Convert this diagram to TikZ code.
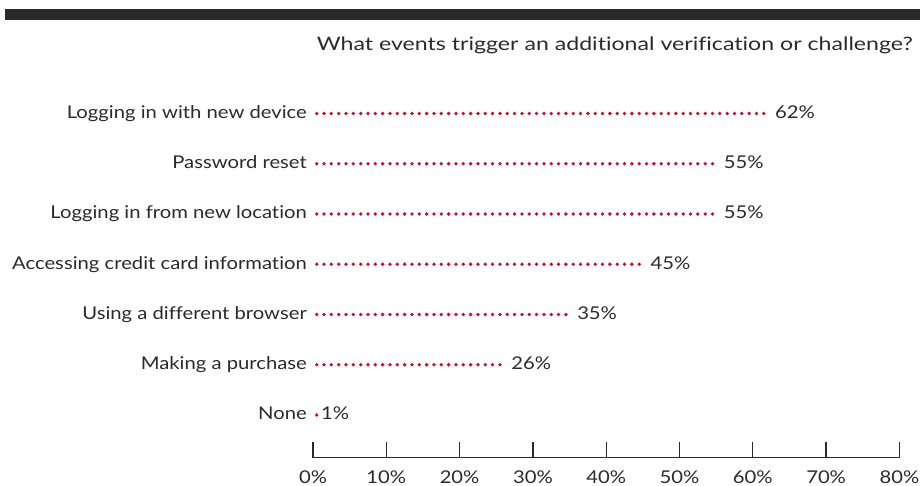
\documentclass[tikz,border=0pt]{standalone}
\usepackage{fontspec}
\setmainfont{Lato}
\newfontfamily\lblfont{Lato}[FakeStretch=1.15,Ligatures=NoCommon]
\newfontfamily\ttlfont{Lato}[FakeStretch=1.25,Ligatures=NoCommon]
\definecolor{ink}{HTML}{2A2A2C}
\definecolor{dotred}{HTML}{C41230}
\begin{document}
\begin{tikzpicture}[x=1pt,y=-1pt,
  lbl/.style={anchor=base east, inner sep=0pt, text=ink, font=\lblfont\fontsize{17.6}{20}\selectfont},
  val/.style={anchor=base west, inner sep=0pt, text=ink, font=\lblfont\fontsize{17.6}{20}\selectfont},
  ttl/.style={anchor=base east, inner sep=0pt, text=ink, font=\ttlfont\fontsize{18.5}{22}\selectfont},
  axlbl/.style={anchor=base, inner sep=0pt, text=ink, font=\lblfont\fontsize{17.6}{20}\selectfont},
  dot/.style={fill=dotred},
  axis/.style={draw=ink, line width=1.3pt}]
\useasboundingbox (0,0) rectangle (920,486);
% header bar
\fill[ink] (5,8.8) rectangle (920,19.6);
\node[ttl] (title) at (913,50.7) {What events trigger an additional verification or challenge?};
% rows: label / percent / index -- one dot per percentage point
\foreach \txt/\p/\i in {Logging in with new device/62/0, Password reset/55/1,
    Logging in from new location/55/2, Accessing credit card information/45/3,
    Using a different browser/35/4, Making a purchase/26/5}{
  \pgfmathsetmacro{\ry}{113.5+50.25*\i}
  \pgfmathsetmacro{\vx}{313+7.33*\p}
  \pgfmathtruncatemacro{\n}{\p-1}
  \node[lbl] (lab\i) at (307,\ry+4.8) {\txt};
  \coordinate (s\i) at (316.67,\ry);
  \foreach \j in {0,...,\n}{
    \fill[dot] ([xshift=7.33*\j pt]s\i) circle (1.9);
  }
  \node[val] (val\i) at (\vx+7.5,\ry+4.8) {\p\%};
}
% single-dot row
\node[lbl] (lab6) at (307,419.8) {None};
\coordinate (s6) at (316.67,415);
\fill[dot] (s6) circle (1.9);
\node[val] (val6) at (321,419.8) {1\%};
% axis
\coordinate (a0) at (313,457.5);
\coordinate (a8) at (899.4,457.5);
\draw[axis] (a0) -- (a8);
\foreach \k in {0,...,8}{
  \coordinate (t\k) at (313+73.3*\k,457.5);
  \draw[axis] (t\k) -- ++(0,-16);
  \node[axlbl] (tl\k) at (313+73.3*\k,483.3) {\the\numexpr\k*10\relax\%};
}
\end{tikzpicture}
\end{document}
